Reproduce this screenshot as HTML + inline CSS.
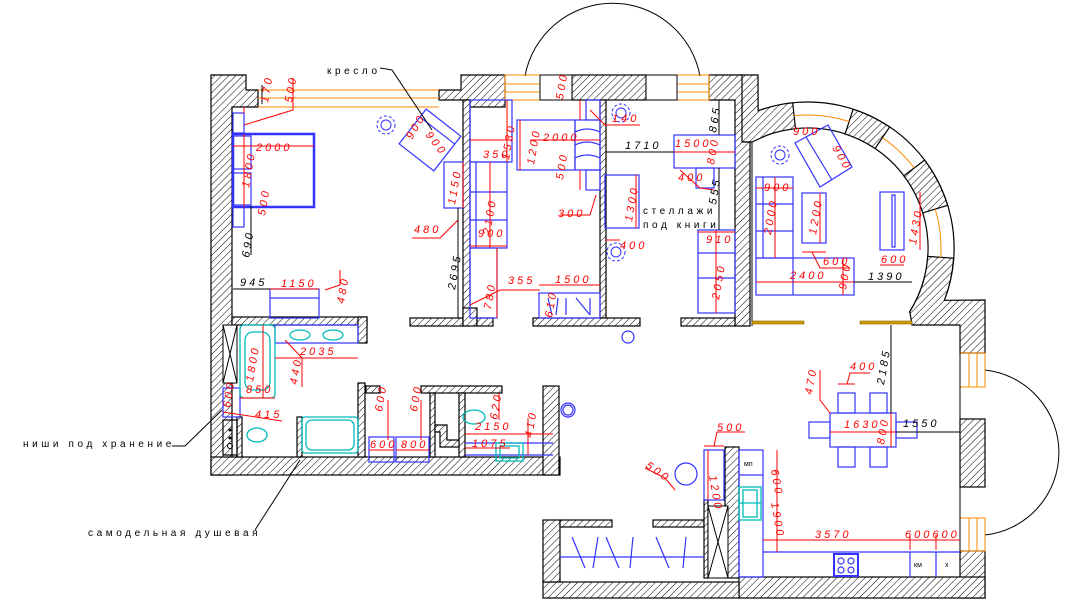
<!DOCTYPE html>
<html><head><meta charset="utf-8">
<style>
html,body{margin:0;padding:0;background:#fff;}
svg{display:block;}
.r{fill:#f00;font-family:"Liberation Sans",sans-serif;font-size:11px;font-style:italic;letter-spacing:3px;}
.k{fill:#000;font-family:"Liberation Sans",sans-serif;font-size:11px;font-style:italic;letter-spacing:3px;}
.lb{fill:#000;font-family:"Liberation Sans","DejaVu Sans",sans-serif;font-size:10px;letter-spacing:3.6px;}
</style></head>
<body>
<svg width="1072" height="610" viewBox="0 0 1072 610" xmlns="http://www.w3.org/2000/svg">
<defs>
<pattern id="h" patternUnits="userSpaceOnUse" width="5" height="5" patternTransform="rotate(45)">
<rect width="5" height="5" fill="#fff"/><line x1="0" y1="0" x2="0" y2="5" stroke="#000" stroke-width="1"/>
</pattern>
</defs>

<!-- arcs outside -->
<path d="M525,76 A89,89 0 0 1 700,76" fill="none" stroke="#000" stroke-width="1"/>
<path d="M985,370 A83,83 0 0 1 985,535" fill="none" stroke="#000" stroke-width="1"/>

<!-- round room ring -->
<g stroke="#000" stroke-width="1.2">
<path d="M758.1,110.8 A146,146 0 0 1 944.4,300.3 L909.8,311.6 A120,120 0 0 0 767,135.2 Z" fill="#fff"/>
<path d="M740,75 L758,75 L758.1,110.8 A146,146 0 0 1 792.7,102.8 L795.5,128.7 A120,120 0 0 0 767,135.2 L752,142 L740,142 Z" fill="url(#h)"/>
<path d="M853.1,109.2 A146,146 0 0 1 889.6,127 L875.1,148.5 A120,120 0 0 0 845.1,133.9 Z" fill="url(#h)"/>
<path d="M924.6,160.1 A146,146 0 0 1 947.6,205.3 L922.7,212.9 A120,120 0 0 0 903.9,175.8 Z" fill="url(#h)"/>
<path d="M953.6,258.2 A146,146 0 0 1 944.4,300.3 L985,300 L985,353 L960,353 L960,325 L912,325 L909.8,311.6 A120,120 0 0 0 927.7,256.4 Z" fill="url(#h)"/>
</g>

<g stroke="#000" stroke-width="1.2" fill="url(#h)">
<!-- top-left -->
<polygon points="211,75 246,75 246,90 258,90 258,107 232,107 232,475 211,475"/>
<polygon points="439,90 461,90 461,75 505,75 505,107 470,107 470,100 439,100"/>
<rect x="572" y="75" width="74" height="25"/>
<polygon points="709,75 742,75 742,142 750,142 750,326 735,326 735,100 709,100"/>
<!-- bedroom bottom wall -->
<rect x="232" y="317" width="135" height="8"/>
<rect x="358" y="317" width="9" height="26"/>
<!-- middle walls -->
<rect x="463" y="100" width="7" height="226"/>
<rect x="410" y="318" width="53" height="8"/>
<rect x="463" y="308" width="14" height="18"/>
<rect x="477" y="318" width="16" height="8"/>
<rect x="600" y="100" width="6" height="218"/>
<rect x="533" y="318" width="107" height="8"/>
<rect x="681" y="318" width="54" height="8"/>
<!-- bathrooms bottom -->
<rect x="211" y="457" width="349" height="18"/>
<rect x="543" y="386" width="16" height="89"/>
<rect x="358" y="383" width="7" height="74"/>
<rect x="366" y="386" width="14" height="7"/>
<rect x="421" y="386" width="81" height="7"/>
<rect x="430" y="393" width="5" height="64"/>
<rect x="459" y="393" width="6" height="64"/>
<polygon points="435,425 447,425 447,440 459,440 459,447 440,447 440,432 435,432"/>
<rect x="297" y="417" width="5" height="40"/>
<rect x="237" y="417" width="5" height="40"/>
<rect x="960" y="419" width="25" height="68"/>
<rect x="960" y="551" width="25" height="47"/>
<rect x="739" y="577" width="246" height="21"/>
<rect x="543" y="582" width="196" height="16"/>
<rect x="543" y="520" width="17" height="62"/>
<rect x="560" y="520" width="52" height="7"/>
<rect x="653" y="520" width="51" height="7"/>
<rect x="725" y="447" width="14" height="131"/>
<rect x="704" y="500" width="4" height="78"/>
</g>
<line x1="752" y1="142" x2="752" y2="326" stroke="#000"/>
<g fill="none" stroke="#f80" stroke-width="1">
<path d="M794.1,115.7 A133,133 0 0 1 849.1,121.5"/>
<path d="M882.4,137.7 A133,133 0 0 1 914.2,167.9"/>
<path d="M935.2,209.1 A133,133 0 0 1 940.7,257.3"/>
<!-- top windows -->
<line x1="258" y1="90" x2="439" y2="90"/><line x1="258" y1="98" x2="439" y2="98"/><line x1="258" y1="107" x2="439" y2="107"/>
<rect x="505" y="75" width="35" height="25"/><line x1="505" y1="84" x2="540" y2="84"/><line x1="505" y1="92" x2="540" y2="92"/>
<rect x="677" y="75" width="32" height="25"/><line x1="677" y1="84" x2="709" y2="84"/><line x1="677" y1="92" x2="709" y2="92"/>
<rect x="960" y="353" width="25" height="34"/><line x1="969" y1="353" x2="969" y2="387"/><line x1="977" y1="353" x2="977" y2="387"/>
<rect x="960" y="518" width="25" height="33"/><line x1="969" y1="518" x2="969" y2="551"/><line x1="977" y1="518" x2="977" y2="551"/>
</g>
<rect x="540" y="75" width="32" height="25" fill="#fff" stroke="#000"/>
<rect x="646" y="75" width="31" height="25" fill="#fff" stroke="#000"/>
<line x1="960" y1="325" x2="960" y2="577" stroke="#000"/>
<!-- gold doors -->
<g fill="#c90" stroke="#860" stroke-width="0.6">
<rect x="752" y="321" width="52" height="3"/><rect x="860" y="321" width="52" height="3"/>
</g>

<!-- blue furniture -->
<g fill="none" stroke="#33f" stroke-width="1.2">
<rect x="233" y="134" width="81" height="73" stroke-width="2.5"/>
<rect x="233" y="113" width="11" height="20"/><rect x="233" y="207" width="11" height="20"/>
<rect x="233" y="136" width="18" height="33"/><rect x="233" y="173" width="18" height="32"/>
<rect x="270" y="289" width="49" height="29"/><line x1="270" y1="298" x2="319" y2="298"/>
<rect x="-22" y="-22" width="44" height="44" transform="translate(430,140) rotate(38)"/>
<line x1="-22" y1="-12" x2="22" y2="-12" transform="translate(430,140) rotate(38)"/>
<rect x="444" y="162" width="19" height="46"/>
<rect x="470" y="100" width="42" height="62"/>
<rect x="470" y="162" width="37" height="86"/><line x1="470" y1="192" x2="507" y2="192"/><line x1="470" y1="220" x2="507" y2="220"/><line x1="476" y1="162" x2="476" y2="248"/>
<rect x="470" y="248" width="27" height="70"/>
<rect x="517" y="120" width="58" height="50"/><rect x="575" y="120" width="25" height="50"/>
<path d="M575,132 Q587,126 600,132 M575,145 Q587,139 600,145 M575,158 Q587,152 600,158"/>
<rect x="586" y="100" width="14" height="20"/><rect x="586" y="170" width="14" height="20"/>
<rect x="539" y="293" width="61" height="25"/>
<path d="M548,298 L552,315 M558,298 L556,315 M566,298 L566,315 M576,298 L590,315 M590,298 L590,315"/>
<rect x="605" y="175" width="34" height="53"/>
<rect x="674" y="135" width="61" height="33"/><rect x="696" y="168" width="18" height="20"/>
<rect x="698" y="230" width="37" height="83"/><line x1="698" y1="253" x2="735" y2="253"/><line x1="698" y1="278" x2="735" y2="278"/>
<rect x="756" y="177" width="37" height="81"/><line x1="756" y1="204" x2="793" y2="204"/><line x1="756" y1="231" x2="793" y2="231"/><line x1="763" y1="177" x2="763" y2="258"/>
<rect x="756" y="258" width="98" height="37"/><line x1="793" y1="258" x2="793" y2="295"/>
<rect x="802" y="193" width="24" height="50"/>
<polygon points="795,143 828,125 852,167 820,187"/><line x1="806" y1="137" x2="832" y2="180"/>
<rect x="880" y="192" width="24" height="58"/><rect x="892" y="195" width="3" height="52"/>
<rect x="275" y="325" width="83" height="18"/>
<rect x="223" y="388" width="17" height="29"/>
<rect x="223" y="420" width="14" height="35" stroke="#000"/>
<rect x="369" y="437" width="25" height="25"/><rect x="396" y="437" width="33" height="25"/>
<line x1="465" y1="443" x2="553" y2="443"/><line x1="465" y1="455" x2="553" y2="455"/>
<circle cx="568" cy="410" r="7"/><circle cx="628" cy="337" r="6"/><circle cx="568" cy="410" r="5"/>
<circle cx="686" cy="474" r="11"/>
<rect x="704" y="450" width="20" height="50"/>
<rect x="739" y="450" width="24" height="127"/><line x1="739" y1="475" x2="763" y2="475"/>
<line x1="763" y1="552" x2="960" y2="552"/>
<line x1="910" y1="552" x2="910" y2="577"/><line x1="936" y1="552" x2="936" y2="577"/>
<rect x="834" y="554" width="24" height="22" stroke-width="2"/>
<circle cx="841" cy="561" r="3"/><circle cx="851" cy="561" r="3"/><circle cx="841" cy="570" r="3"/><circle cx="851" cy="570" r="3"/>
<rect x="830" y="413" width="66" height="34"/>
<rect x="838" y="393" width="17" height="20"/><rect x="870" y="393" width="17" height="20"/>
<rect x="838" y="447" width="17" height="20"/><rect x="870" y="447" width="17" height="20"/>
<rect x="809" y="422" width="21" height="16"/><rect x="896" y="422" width="21" height="16"/>
<line x1="560" y1="557" x2="704" y2="557"/>
<path d="M572,537 L585,568 M598,537 L593,568 M606,537 L619,568 M633,537 L630,568 M656,537 L669,568 M686,537 L683,568"/>
</g>
<rect x="708" y="506" width="20" height="72" fill="#fff" stroke="#000"/>
<path d="M708,506 L728,578 M728,506 L708,578" stroke="#000"/>
<rect x="223" y="325" width="14" height="58" fill="#fff" stroke="#000"/>
<path d="M223,325 L237,383 M237,325 L223,383" stroke="#000"/>
<g fill="#000"><circle cx="230" cy="430" r="1.5"/><circle cx="230" cy="438" r="1.5"/></g>
<circle cx="230" cy="446" r="2.5" fill="none" stroke="#000"/>
<!-- cyan fixtures -->
<g fill="none" stroke="#0bb" stroke-width="1.3">
<rect x="240" y="325" width="35" height="73" rx="4"/><rect x="245" y="332" width="25" height="58" rx="8"/>
<ellipse cx="300" cy="335" rx="10" ry="5"/><ellipse cx="333" cy="335" rx="10" ry="5"/>
<ellipse cx="257" cy="435" rx="10" ry="7"/>
<rect x="302" y="417" width="56" height="36" rx="3"/><rect x="306" y="420" width="48" height="30" rx="6"/>
<ellipse cx="474" cy="417" rx="11" ry="7"/>
<rect x="496" y="443" width="27" height="18"/><rect x="500" y="446" width="19" height="12"/>
<rect x="739" y="487" width="22" height="33"/><line x1="739" y1="503" x2="761" y2="503"/><rect x="743" y="490" width="14" height="27"/>
</g>
<!-- plants -->
<g fill="none" stroke="#33f" stroke-width="1">
<circle cx="386" cy="125" r="9" stroke-dasharray="3 2"/><circle cx="386" cy="125" r="5"/>
<circle cx="621" cy="113" r="9" stroke-dasharray="3 2"/><circle cx="621" cy="113" r="5"/>
<circle cx="616" cy="252" r="9" stroke-dasharray="3 2"/><circle cx="616" cy="252" r="5"/>
<circle cx="780" cy="155" r="9" stroke-dasharray="3 2"/><circle cx="780" cy="155" r="5"/>
</g>

<!-- dimension lines red -->
<g stroke="#f00" stroke-width="1" fill="none">
<line x1="233" y1="146" x2="314" y2="146"/><line x1="244" y1="134" x2="244" y2="207"/>
<line x1="244" y1="107" x2="244" y2="113"/><path d="M244,125 L293,110 L293,78"/>
<line x1="270" y1="289" x2="319" y2="289"/><path d="M325,290 L340,285 L340,270"/>
<line x1="463" y1="162" x2="463" y2="208"/><path d="M458,220 L440,238 L412,238"/>
<line x1="470" y1="140" x2="512" y2="140"/><line x1="507" y1="100" x2="507" y2="162"/>
<line x1="490" y1="162" x2="490" y2="248"/><line x1="470" y1="246" x2="507" y2="246"/>
<line x1="497" y1="248" x2="497" y2="318"/><path d="M470,305 L500,290 L540,290"/>
<line x1="539" y1="285" x2="600" y2="285"/>
<line x1="520" y1="120" x2="520" y2="170"/><line x1="530" y1="140" x2="600" y2="140"/>
<line x1="580" y1="100" x2="580" y2="120"/><line x1="580" y1="170" x2="580" y2="190"/>
<path d="M596,195 L590,215 L560,215"/><path d="M590,110 L605,125 L640,125"/>
<line x1="636" y1="175" x2="636" y2="228"/><line x1="605" y1="240" x2="620" y2="240"/>
<line x1="674" y1="152" x2="735" y2="152"/><path d="M680,170 L700,188 L714,190"/>
<line x1="716" y1="230" x2="716" y2="313"/><line x1="698" y1="232" x2="735" y2="232"/>
<line x1="756" y1="188" x2="793" y2="188"/><line x1="775" y1="177" x2="775" y2="258"/>
<line x1="820" y1="193" x2="820" y2="243"/><path d="M802,252 L826,252 M812,252 L820,268 L850,268"/>
<line x1="756" y1="282" x2="854" y2="282"/><line x1="843" y1="258" x2="843" y2="295"/>
<line x1="920" y1="192" x2="920" y2="250"/><line x1="880" y1="265" x2="904" y2="265"/>
<line x1="275" y1="358" x2="358" y2="358"/><path d="M285,340 L302,358 L302,387"/>
<line x1="263" y1="325" x2="263" y2="398"/><line x1="240" y1="398" x2="275" y2="398"/>
<line x1="223" y1="412" x2="282" y2="421"/>
<line x1="369" y1="450" x2="394" y2="450"/><line x1="396" y1="450" x2="429" y2="450"/>
<line x1="388" y1="400" x2="388" y2="440"/><line x1="421" y1="400" x2="421" y2="440"/>
<line x1="465" y1="434" x2="553" y2="434"/><line x1="465" y1="448" x2="510" y2="448"/>
<line x1="499" y1="393" x2="499" y2="420"/><line x1="528" y1="418" x2="528" y2="455"/>
<line x1="704" y1="446" x2="724" y2="446"/><path d="M714,446 L717,432 L745,432"/>
<line x1="708" y1="450" x2="708" y2="500"/>
<path d="M675,490 L665,478 L645,468"/>
<line x1="777" y1="450" x2="777" y2="552"/><line x1="763" y1="540" x2="960" y2="540"/>
<line x1="910" y1="535" x2="910" y2="550"/><line x1="936" y1="535" x2="936" y2="550"/>
<line x1="838" y1="384" x2="855" y2="384"/><path d="M847,384 L850,373 L870,373"/>
<path d="M820,370 L820,400 L830,413"/>
<line x1="830" y1="432" x2="896" y2="432"/><line x1="891" y1="413" x2="891" y2="447"/>
</g>
<g stroke="#000" stroke-width="1" fill="none">
<line x1="251" y1="206" x2="251" y2="255"/><line x1="233" y1="289" x2="270" y2="289"/>
<line x1="458" y1="208" x2="458" y2="318"/>
<line x1="606" y1="152" x2="674" y2="152"/>
<line x1="719" y1="100" x2="719" y2="135"/><line x1="719" y1="168" x2="719" y2="230"/>
<line x1="854" y1="282" x2="912" y2="282"/>
<line x1="891" y1="325" x2="891" y2="413"/><line x1="896" y1="432" x2="960" y2="432"/>
<line x1="262" y1="85" x2="262" y2="104"/>
<path d="M380,68 L392,70 L432,130"/>
<path d="M172,446 L185,446 L222,410"/>
<path d="M255,530 L300,460"/>
</g>

<!-- red texts -->
<g class="r">
<text transform="translate(268,103) rotate(-80)">170</text>
<text transform="translate(292,103) rotate(-80)">500</text>
<text x="256" y="151">2000</text>
<text transform="translate(249,188) rotate(-80)">1800</text>
<text transform="translate(265,216) rotate(-80)">500</text>
<text x="281" y="287">1150</text>
<text transform="translate(344,304) rotate(-80)">480</text>
<text transform="translate(412,140) rotate(-60)">900</text>
<text transform="translate(425,135) rotate(52)">900</text>
<text transform="translate(455,205) rotate(-80)">1150</text>
<text x="414" y="233">480</text>
<text x="483" y="158">350</text>
<text transform="translate(509,160) rotate(-80)">1530</text>
<text transform="translate(490,235) rotate(-80)">2100</text>
<text x="478" y="237">900</text>
<text transform="translate(491,310) rotate(-80)">780</text>
<text x="508" y="284">355</text>
<text x="555" y="283">1500</text>
<text transform="translate(552,318) rotate(-80)">610</text>
<text transform="translate(534,165) rotate(-80)">1200</text>
<text x="543" y="141">2000</text>
<text transform="translate(563,180) rotate(-80)">500</text>
<text transform="translate(563,100) rotate(-80)">500</text>
<text x="558" y="217">300</text>
<text x="612" y="122">140</text>
<text transform="translate(632,222) rotate(-80)">1300</text>
<text x="620" y="249">400</text>
<text x="675" y="147">1500</text>
<text transform="translate(714,165) rotate(-80)">800</text>
<text x="678" y="181">400</text>
<text x="706" y="243">910</text>
<text transform="translate(719,300) rotate(-80)">2050</text>
<text x="793" y="135">900</text>
<text transform="translate(832,148) rotate(60)">900</text>
<text x="764" y="191">900</text>
<text transform="translate(771,235) rotate(-80)">2000</text>
<text transform="translate(816,235) rotate(-80)">1200</text>
<text x="823" y="265">600</text>
<text x="790" y="279">2400</text>
<text transform="translate(846,290) rotate(-80)">900</text>
<text transform="translate(916,245) rotate(-80)">1430</text>
<text x="881" y="263">600</text>
<text transform="translate(253,382) rotate(-80)">1800</text>
<text x="300" y="355">2035</text>
<text transform="translate(297,385) rotate(-80)">440</text>
<text x="246" y="393">850</text>
<text transform="translate(230,408) rotate(-80)">600</text>
<text x="255" y="418">415</text>
<text transform="translate(382,412) rotate(-80)">600</text>
<text transform="translate(417,412) rotate(-80)">600</text>
<text x="370" y="448">600</text>
<text x="401" y="448">800</text>
<text transform="translate(497,420) rotate(-80)">620</text>
<text x="475" y="430">2150</text>
<text x="472" y="447">1075</text>
<text transform="translate(532,438) rotate(-80)">410</text>
<text x="717" y="431">500</text>
<text transform="translate(709,476) rotate(80)">1200</text>
<text transform="translate(645,467) rotate(35)">500</text>
<text transform="translate(771,470) rotate(80)">600</text>
<text transform="translate(771,503) rotate(80)">1900</text>
<text x="815" y="538">3570</text>
<text x="905" y="538">600600</text>
<text x="850" y="370">400</text>
<text transform="translate(812,395) rotate(-80)">470</text>
<text x="844" y="428">1630</text>
<text transform="translate(884,445) rotate(-80)">800</text>
</g>
<g class="k">
<text transform="translate(249,258) rotate(-80)">690</text>
<text x="240" y="286">945</text>
<text transform="translate(455,290) rotate(-80)">2695</text>
<text x="625" y="149">1710</text>
<text transform="translate(716,133) rotate(-80)">865</text>
<text transform="translate(716,205) rotate(-80)">555</text>
<text x="868" y="280">1390</text>
<text transform="translate(884,385) rotate(-80)">2185</text>
<text x="903" y="427">1550</text>
</g>
<g style="font-family:'Liberation Sans',sans-serif;font-size:7px;fill:#000">
<text x="744" y="466">мп</text><text x="914" y="567">км</text><text x="945" y="567">х</text>
</g>
<g class="lb">
<text x="327" y="74">кресло</text>
<text x="643" y="214">стеллажи</text>
<text x="643" y="228">под книги</text>
<text x="23" y="447">ниши под хранение</text>
<text x="88" y="536">самодельная душевая</text>
</g>
</svg>
</body></html>
